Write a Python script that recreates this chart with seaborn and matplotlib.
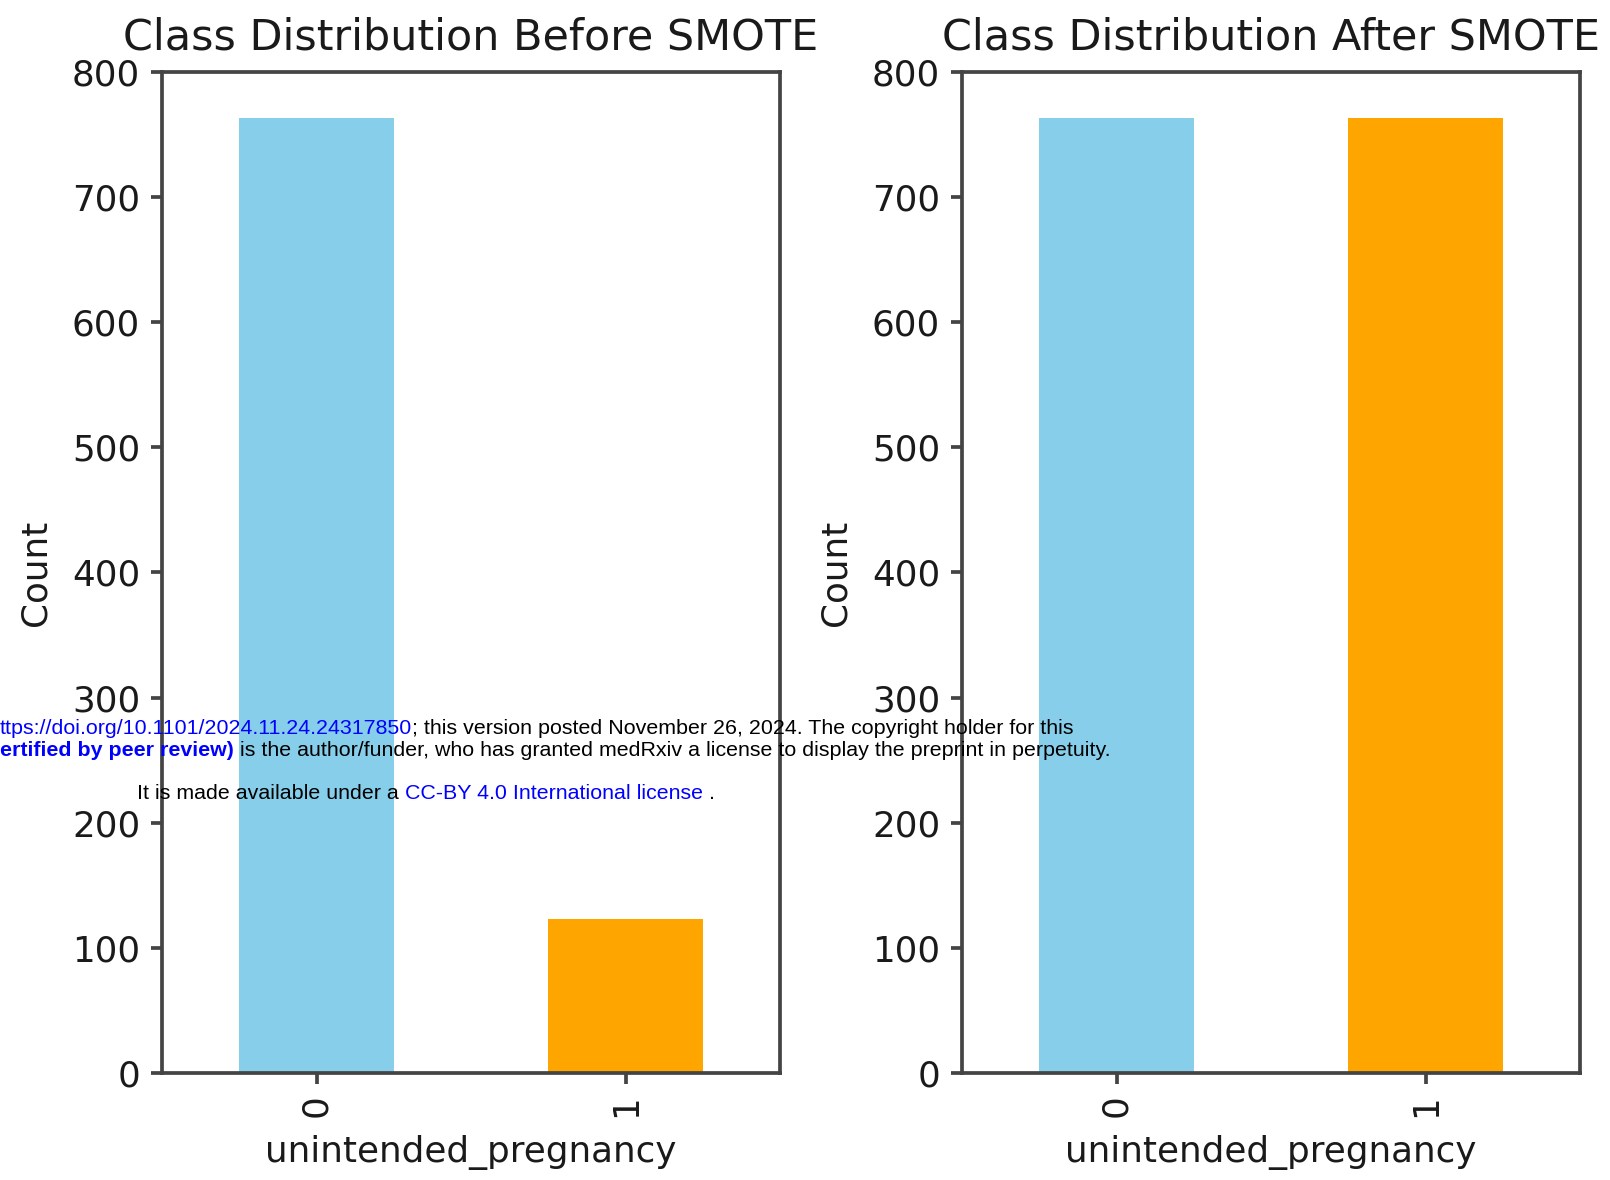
import matplotlib
matplotlib.use("Agg")
import matplotlib.pyplot as plt
import seaborn as sns
import pandas as pd

# --- data ---
classes = ["0", "1"]
counts_before = [763, 123]
counts_after = [763, 763]
bar_colors = ["skyblue", "orange"]

titles = ["Class Distribution Before SMOTE", "Class Distribution After SMOTE"]
x_label = "unintended_pregnancy"
y_label = "Count"
y_ticks = [0, 100, 200, 300, 400, 500, 600, 700, 800]

# medRxiv stamp that sits over the figure
stamp_line1 = [("ttps://doi.org/10.1101/2024.11.24.24317850", "blue", "normal"),
               ("; this version posted November 26, 2024. The copyright holder for this", "black", "normal")]
stamp_line2 = [("ertified by peer review)", "blue", "bold"),
               (" is the author/funder, who has granted medRxiv a license to display the preprint in perpetuity.", "black", "normal")]
stamp_line3 = [("It is made available under a ", "black", "normal"),
               ("CC-BY 4.0 International license", "blue", "normal"),
               (" .", "black", "normal")]

sns.set_style("ticks", {"axes.edgecolor": "#444444", "xtick.color": "#444444",
                        "ytick.color": "#444444", "text.color": "#1a1a1a",
                        "axes.labelcolor": "#1a1a1a"})
plt.rcParams["font.family"] = ["DejaVu Sans"]
plt.rcParams["axes.linewidth"] = 1.2
plt.rcParams["xtick.major.width"] = 1.2
plt.rcParams["ytick.major.width"] = 1.2

DPI = 223.6
fig, axes = plt.subplots(1, 2, figsize=(1610 / DPI, 1180 / DPI), dpi=DPI)
fig.subplots_adjust(left=0.1006, right=0.9815, bottom=0.0907, top=0.939, wspace=0.294)

for ax, counts, title in zip(axes, [counts_before, counts_after], titles):
    df = pd.DataFrame({"cls": classes, "count": counts})
    sns.barplot(data=df, x="cls", y="count", hue="cls", palette=bar_colors,
                legend=False, width=0.5, saturation=1, linewidth=0, ax=ax)
    ax.set_ylim(0, 800)
    ax.set_yticks(y_ticks)
    ax.set_xlim(-0.5, 1.5)
    ax.set_title(title, fontsize=13.8, pad=7.3)
    ax.set_xlabel(x_label, fontsize=11.5, labelpad=5.6)
    ax.set_ylabel(y_label, fontsize=11.5, labelpad=6.3)
    ax.tick_params(axis="both", labelsize=11.5, labelcolor="#1a1a1a")
    ax.tick_params(axis="x", rotation=90)
    for s in ax.spines.values():
        s.set_visible(True)

# stamp text, pieces laid end to end
def put_line(pieces, x0, y0, size=6.9):
    x = x0
    for txt, col, wt in pieces:
        t = fig.text(x, y0, txt, color=col, fontweight=wt, fontsize=size,
                     family=["Liberation Sans", "DejaVu Sans"], va="baseline", zorder=10)
        fig.canvas.draw()
        bb = t.get_window_extent(fig.canvas.get_renderer())
        x = bb.x1 / fig.bbox.width

put_line(stamp_line1, 0.0, 1 - 0.622)
put_line(stamp_line2, 0.0, 1 - 0.641)
put_line(stamp_line3, 0.085, 1 - 0.677)

fig.savefig("out.png", dpi=DPI)
